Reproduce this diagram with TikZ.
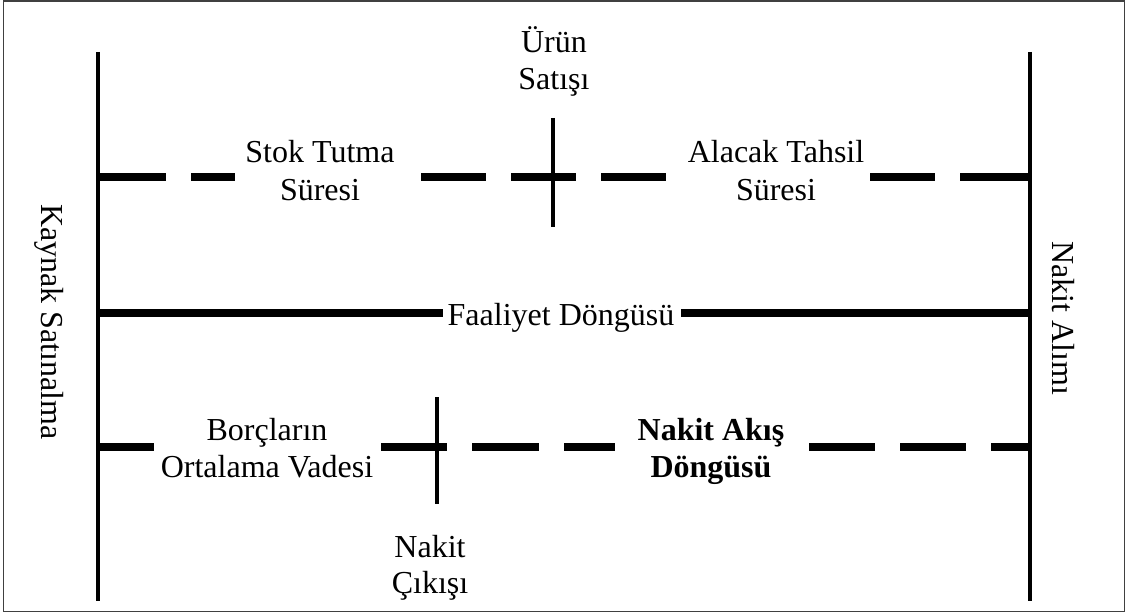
\documentclass[tikz,border=0pt]{standalone}
\usepackage{fontspec}
\setmainfont{Liberation Serif}
\tikzset{
  lbl/.style={font=\fontsize{32}{37}\selectfont, inner sep=0pt, anchor=base},
  rlbl/.style={font=\fontsize{32}{37}\selectfont, inner sep=0pt, anchor=center},
  bar/.style={line width=8pt, line cap=butt},
  axis/.style={line width=4pt, line cap=butt},
  tick/.style={line width=4pt, line cap=butt},
  frame/.style={draw=black!75, line width=1.6pt}
}
\begin{document}
\begin{tikzpicture}[x=1pt,y=-1pt]
\useasboundingbox (0,0) rectangle (1127,615);
\draw[frame] (3.5,0.8) rectangle (1124.5,611.5);

% vertical axes
\coordinate (Ltop) at (98,52);
\coordinate (Lbot) at (98,601);
\coordinate (Rtop) at (1030,52);
\coordinate (Rbot) at (1030,601);
\draw[axis] (Ltop) -- (Lbot);
\draw[axis] (Rtop) -- (Rbot);

% rotated labels
\node[rlbl, rotate=-90] (kaynak) at (49,322) {Kaynak Satınalma};
\node[rlbl, rotate=-90] (alim) at (1063,318) {Nakit Alımı};

% top dashed line
\foreach \a/\b in {100/166,191/235,421/486,511/576,601/666,870/935,960/1028}
  \draw[bar] (\a,177) -- (\b,177);
\coordinate (t1) at (553,118);
\coordinate (t2) at (553,227);
\draw[tick] (t1) -- (t2);

\node[lbl] (urun1) at (554,53) {Ürün};
\node[lbl] (urun2) at (554,90) {Satışı};
\node[lbl] (stok1) at (320,163) {Stok Tutma};
\node[lbl] (stok2) at (320,200) {Süresi};
\node[lbl] (alacak1) at (776,163) {Alacak Tahsil};
\node[lbl] (alacak2) at (776,200) {Süresi};

% operating cycle
\node[lbl] (faal) at (561,325) {Faaliyet Döngüsü};
\draw[bar] (100,313) -- (443,313);
\draw[bar] (681,313) -- (1028,313);

% bottom dashed line
\foreach \a/\b in {100/154,381/447,472/539,564/615,809/875,900/966,991/1028}
  \draw[bar] (\a,447) -- (\b,447);
\coordinate (b1) at (437,397);
\coordinate (b2) at (437,504);
\draw[tick] (b1) -- (b2);

\node[lbl] (borc1) at (267,440) {Borçların};
\node[lbl] (borc2) at (267,477) {Ortalama Vadesi};
\node[lbl, font=\fontsize{32}{37}\selectfont\bfseries] (akis1) at (711,440) {Nakit Akış};
\node[lbl, font=\fontsize{32}{37}\selectfont\bfseries] (akis2) at (711,477) {Döngüsü};
\node[lbl] (cikis1) at (430,557) {Nakit};
\node[lbl] (cikis2) at (430,593) {Çıkışı};
\end{tikzpicture}
\end{document}
